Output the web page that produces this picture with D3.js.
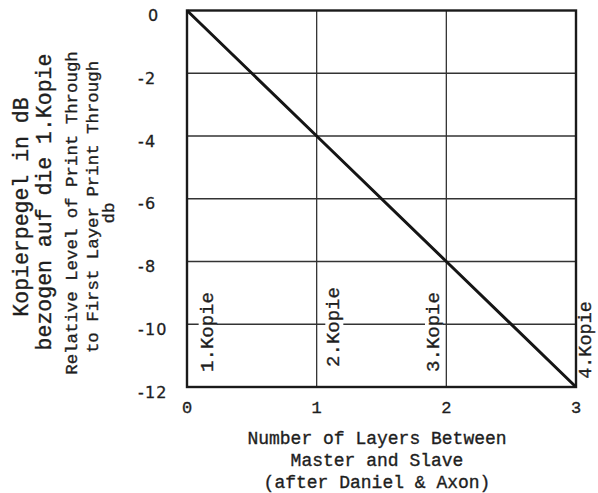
<!DOCTYPE html>
<html>
<head>
<meta charset="utf-8">
<script src="https://cdn.jsdelivr.net/npm/d3@7"></script>
<style>
  html, body { margin: 0; padding: 0; background: #fff; }
  svg { display: block; }
  .mono { font-family: "Liberation Mono", "DejaVu Sans Mono", monospace; fill: #1e1e1e; stroke: #1e1e1e; stroke-width: 0.35; }
  .sans { font-family: "DejaVu Sans", "Liberation Sans", sans-serif; fill: #1e1e1e; stroke: #1e1e1e; stroke-width: 0.3; }
</style>
</head>
<body>
<svg id="chart" width="598" height="493"></svg>
<script>
// Print-through level versus number of layers between master and slave
const layers = [0, 1, 2, 3];
const levelDb = [0, -4, -8, -12];
const copyLabels = ["1.Kopie", "2.Kopie", "3.Kopie", "4.Kopie"];
const xTicks = [0, 1, 2, 3];
const yTicks = [0, -2, -4, -6, -8, -10, -12];
const xTitle = ["Number of Layers Between", "Master and Slave", "(after Daniel & Axon)"];
const yTitleDe = ["Kopierpegel in dB", "bezogen auf die 1.Kopie"];
const yTitleEn = ["Relative Level of Print Through", "to First Layer Print Through", "db"];

const svg = d3.select("#chart");
const x = d3.scaleLinear().domain([0, 3]).range([187, 576]);
const y = d3.scaleLinear().domain([0, -12]).range([10.5, 387]);

// grid lines
const grid = svg.append("g").attr("stroke", "#333").attr("stroke-width", 1.3);
grid.selectAll("line.h").data(yTicks.slice(1, -1)).join("line")
  .attr("x1", x(0)).attr("x2", x(3))
  .attr("y1", d => y(d)).attr("y2", d => y(d));
grid.selectAll("line.v").data(xTicks.slice(1, -1)).join("line")
  .attr("x1", d => x(d)).attr("x2", d => x(d))
  .attr("y1", y(0)).attr("y2", y(-12));

// copy labels, set on white so the grid breaks behind them
const labelG = svg.append("g");
const labelPos = [
  { dx: 19, cy: 332, fs: 19 },
  { dx: 16, cy: 327, fs: 19 },
  { dx: -14, cy: 332, fs: 19 },
  { dx: 9, cy: 340, fs: 18.5 }
];
copyLabels.forEach((t, i) => {
  const p = labelPos[i];
  const cx = x(layers[i]) + p.dx;
  const g = labelG.append("g").attr("transform", `translate(${cx},${p.cy}) rotate(-90)`);
  const txt = g.append("text").attr("class", "mono")
    .attr("font-size", p.fs)
    .attr("text-anchor", "middle").attr("dy", "0.35em").text(t);
  const bb = txt.node().getBBox();
  g.insert("rect", "text").attr("x", bb.x - 3).attr("y", bb.y + 2)
    .attr("width", bb.width + 6).attr("height", bb.height - 4).attr("fill", "#fff");
});

// frame
svg.append("rect")
  .attr("x", x(0)).attr("y", y(0))
  .attr("width", x(3) - x(0)).attr("height", y(-12) - y(0))
  .attr("fill", "none").attr("stroke", "#1a1a1a").attr("stroke-width", 2.4);

// data line
svg.append("path")
  .datum(layers.map((l, i) => [l, levelDb[i]]))
  .attr("fill", "none").attr("stroke", "#151515").attr("stroke-width", 3)
  .attr("d", d3.line().x(d => x(d[0])).y(d => y(d[1])));

// y tick labels
svg.append("g").selectAll("text").data(yTicks).join("text")
  .attr("class", "sans").attr("font-size", 16).attr("letter-spacing", 1.2)
  .attr("x", d => d === 0 ? 148 : 138)
  .attr("y", d => y(d) + 5).attr("dy", "0.35em")
  .text(d => d === 0 ? "0" : "-" + Math.abs(d));

// x tick labels
svg.append("g").selectAll("text").data(xTicks).join("text")
  .attr("class", "mono").attr("font-size", 17)
  .attr("x", d => x(d)).attr("y", 407).attr("dy", "0.35em")
  .attr("text-anchor", "middle").text(d => d);

// x title
svg.append("g").selectAll("text").data(xTitle).join("text")
  .attr("class", "mono").attr("font-size", 18)
  .attr("x", 377).attr("y", (d, i) => [438, 460, 482][i]).attr("dy", "0.35em")
  .attr("text-anchor", "middle").text(d => d);

// y titles (German and English)
const yTitles = [
  { t: yTitleDe[0], cx: 20, cy: 207, fs: 21.5 },
  { t: yTitleDe[1], cx: 43, cy: 202, fs: 21.5 },
  { t: yTitleEn[0], cx: 71, cy: 213, fs: 17.4 },
  { t: yTitleEn[1], cx: 92, cy: 207, fs: 17.4 },
  { t: yTitleEn[2], cx: 108, cy: 213, fs: 17.4 }
];
yTitles.forEach(d => {
  svg.append("text").attr("class", "mono").attr("font-size", d.fs)
    .attr("transform", `translate(${d.cx},${d.cy}) rotate(-90)`)
    .attr("text-anchor", "middle").attr("dy", "0.35em").text(d.t);
});
</script>
</body>
</html>
